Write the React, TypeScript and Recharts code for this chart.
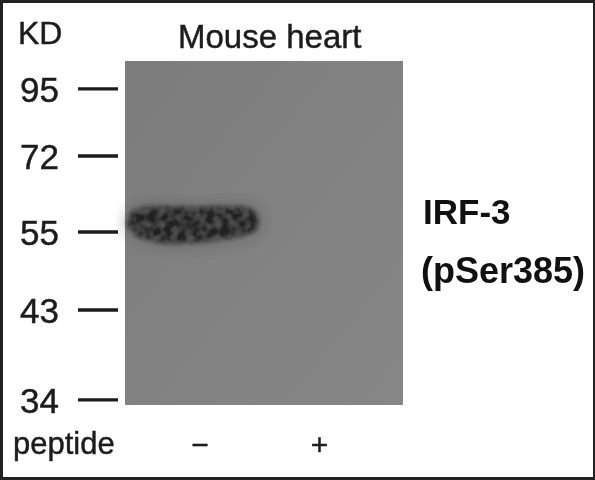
import React from "react";
import { ComposedChart, Area, XAxis, YAxis, ReferenceArea } from "recharts";

// Molecular-weight markers: kD and migration distance (% of gel length)
const markerKd = [95, 72, 55, 43, 34];
const markerMigration = [8.1, 27.6, 49.7, 72.4, 98.5];

// Lanes: label and position (% of gel width)
const laneLabels = ["−", "+"];
const lanePositions = [27, 70];

// Band in the first lane: outline read from the blot
const bandLane = [1.1, 3.6, 9, 16.2, 27, 34.2, 41.4, 45, 47.1, 47.8];
const bandTop = [46.8, 43.6, 42.7, 42.7, 42.9, 42.7, 42.7, 43.3, 45.1, 46.8];
const bandBottom = [47.4, 50, 51.7, 52.6, 52.3, 51.5, 50.6, 49.7, 48.3, 47.1];

const bandData = bandLane.map((x, i) => ({ x, range: [bandTop[i], bandBottom[i]] }));

const FONT = "'Liberation Sans', Arial, sans-serif";
const INK = "#1c1c1c";
const textStroke = { stroke: INK, strokeWidth: 0.45 };

const MarkerTick = ({ x, y, payload }: any) => {
  const kd = markerKd[markerMigration.indexOf(payload.value)];
  return (
    <g>
      <line x1={x - 47} x2={x - 7} y1={y} y2={y} stroke={INK} strokeWidth={3.4} />
      <text x={x - 105} y={y + 13} fontFamily={FONT} fontSize={35} fill={INK} {...textStroke}>
        {kd}
      </text>
    </g>
  );
};

const LaneTick = ({ x, payload }: any) => (
  <text x={x} y={455} textAnchor="middle" fontFamily={FONT} fontSize={30} fill={INK} {...textStroke}>
    {laneLabels[lanePositions.indexOf(payload.value)]}
  </text>
);

export default function App() {
  return (
    <div
      style={{
        position: "absolute",
        left: 0,
        top: 0,
        width: 595,
        height: 480,
        boxSizing: "border-box",
        background: "#fff",
        border: "3px solid #222",
        borderRightWidth: 2,
        overflow: "hidden",
      }}
    >
      <div style={{ position: "absolute", left: -3, top: -3, filter: "blur(0.55px)" }}>
        <ComposedChart
          width={595}
          height={480}
          data={bandData}
          margin={{ top: 61, left: 0, right: 192, bottom: 0 }}
        >
          <defs>
            <linearGradient id="gel" x1="0" y1="0" x2="1" y2="1">
              <stop offset="0" stopColor="#7c7c7c" />
              <stop offset="0.5" stopColor="#828282" />
              <stop offset="1" stopColor="#868686" />
            </linearGradient>
            <filter id="halo" x="-30%" y="-100%" width="160%" height="300%">
              <feGaussianBlur stdDeviation="7" />
            </filter>
            <filter id="core" x="-10%" y="-40%" width="120%" height="180%">
              <feGaussianBlur in="SourceGraphic" stdDeviation="2.4" result="soft" />
              <feTurbulence type="fractalNoise" baseFrequency="0.14" numOctaves="2" seed="4" result="noise" />
              <feGaussianBlur in="noise" stdDeviation="1" result="noiseSoft" />
              <feColorMatrix
                in="noiseSoft"
                type="matrix"
                values="0 0 0 0 0.2  0 0 0 0 0.2  0 0 0 0 0.2  1 0 0 0 -0.38"
                result="speck"
              />
              <feComposite in="speck" in2="soft" operator="in" result="speckIn" />
              <feMerge>
                <feMergeNode in="soft" />
                <feMergeNode in="speckIn" />
              </feMerge>
            </filter>
          </defs>
          <XAxis
            type="number"
            dataKey="x"
            domain={[0, 100]}
            ticks={lanePositions}
            axisLine={false}
            tickLine={false}
            tick={<LaneTick />}
            interval={0}
            height={75}
          />
          <YAxis
            type="number"
            domain={[0, 100]}
            reversed
            ticks={markerMigration}
            axisLine={false}
            tickLine={false}
            tickSize={0}
            tickMargin={0}
            tick={<MarkerTick />}
            interval={0}
            width={125}
          />
          <ReferenceArea x1={0} x2={100} y1={0} y2={100} fill="url(#gel)" fillOpacity={1} stroke="none" />
          <Area
            dataKey="range"
            type="monotone"
            stroke="#444"
            strokeWidth={8}
            strokeOpacity={0.3}
            fill="#444"
            fillOpacity={0.35}
            style={{ filter: "url(#halo)" }}
            dot={false}
            activeDot={false}
            isAnimationActive={false}
          />
          <Area
            dataKey="range"
            type="monotone"
            stroke="#222"
            strokeWidth={1}
            fill="#222222"
            fillOpacity={1}
            style={{ filter: "url(#core)" }}
            dot={false}
            activeDot={false}
            isAnimationActive={false}
          />
          <text x={18} y={44} fontFamily={FONT} fontSize={32} fill={INK} {...textStroke}>KD</text>
          <text x={178} y={48} fontFamily={FONT} fontSize={33} fill={INK} {...textStroke}>Mouse heart</text>
          <text x={13} y={454} fontFamily={FONT} fontSize={31} fill={INK} {...textStroke}>peptide</text>
          <text x={423} y={224} fontFamily={FONT} fontSize={35} fontWeight={700} fill="#111">IRF-3</text>
          <text x={421} y={283} fontFamily={FONT} fontSize={36} fontWeight={700} fill="#111">(pSer385)</text>
        </ComposedChart>
      </div>
    </div>
  );
}
